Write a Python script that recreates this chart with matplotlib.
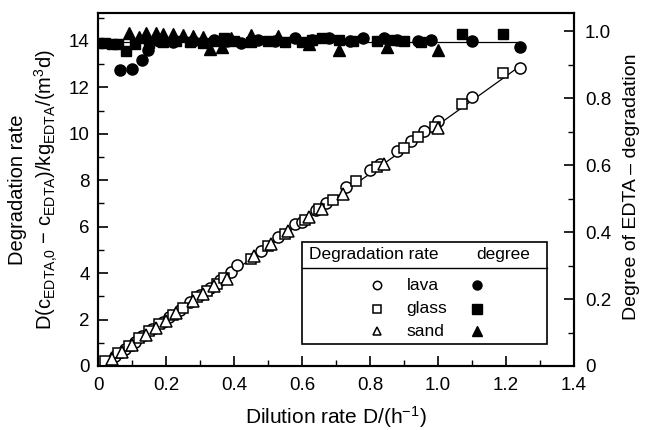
import matplotlib
matplotlib.use("Agg")
import matplotlib.pyplot as plt
from matplotlib.patches import Rectangle
from matplotlib.ticker import MultipleLocator, FuncFormatter

plt.rcParams["font.family"] = ["Liberation Sans", "DejaVu Sans"]
plt.rcParams["mathtext.fontset"] = "custom"
plt.rcParams["mathtext.rm"] = "Liberation Sans"
plt.rcParams["mathtext.it"] = "Liberation Sans:italic"
plt.rcParams["mathtext.bf"] = "Liberation Sans:bold"

# --- degradation rate (left axis) ---
lava_D = [0.05, 0.08, 0.11, 0.13, 0.16, 0.19, 0.21, 0.24, 0.27, 0.30, 0.33, 0.36, 0.39, 0.41,
          0.48, 0.53, 0.58, 0.60, 0.64, 0.67, 0.73, 0.80, 0.83, 0.88, 0.92, 0.96, 1.00, 1.10, 1.24]
lava_rate = [0.45, 0.75, 1.05, 1.3, 1.6, 1.9, 2.1, 2.4, 2.75, 3.05, 3.35, 3.7, 4.05, 4.35,
             4.95, 5.55, 6.1, 6.2, 6.7, 7.0, 7.7, 8.45, 8.7, 9.25, 9.7, 10.1, 10.55, 11.6, 12.85]
glass_D = [0.02, 0.06, 0.09, 0.12, 0.15, 0.18, 0.22, 0.25, 0.29, 0.32, 0.35, 0.37, 0.45,
           0.50, 0.55, 0.61, 0.65, 0.69, 0.76, 0.82, 0.90, 0.94, 0.99, 1.07, 1.19]
glass_rate = [0.2, 0.55, 0.85, 1.2, 1.5, 1.8, 2.2, 2.5, 2.95, 3.25, 3.55, 3.8, 4.6,
              5.15, 5.7, 6.3, 6.75, 7.15, 7.95, 8.55, 9.4, 9.85, 10.3, 11.3, 12.6]
sand_D = [0.04, 0.07, 0.10, 0.14, 0.17, 0.20, 0.23, 0.28, 0.31, 0.34, 0.38, 0.46, 0.51,
          0.56, 0.62, 0.66, 0.72, 0.84, 1.00]
sand_rate = [0.3, 0.6, 0.9, 1.35, 1.65, 1.95, 2.3, 2.8, 3.1, 3.45, 3.75, 4.75, 5.25,
             5.8, 6.4, 6.75, 7.4, 8.7, 10.25]
fit_D = [0.02, 1.24]
fit_rate = [0.1, 12.9]

# --- degree of degradation (right axis) ---
lava_degD = [0.065, 0.10, 0.13, 0.147, 0.18, 0.22, 0.28, 0.34, 0.38, 0.42, 0.47, 0.52,
             0.58, 0.63, 0.68, 0.74, 0.78, 0.84, 0.88, 0.94, 0.98, 1.10, 1.24]
lava_deg = [0.885, 0.888, 0.915, 0.943, 0.971, 0.967, 0.971, 0.974, 0.971, 0.964, 0.974, 0.971,
            0.978, 0.974, 0.978, 0.971, 0.978, 0.978, 0.974, 0.971, 0.974, 0.971, 0.953]
glass_degD = [0.0, 0.02, 0.04, 0.06, 0.083, 0.11, 0.15, 0.19, 0.23, 0.27, 0.31, 0.35, 0.37,
              0.40, 0.45, 0.50, 0.55, 0.60, 0.63, 0.66, 0.71, 0.75, 0.82, 0.86, 0.90, 0.95,
              1.07, 1.19]
glass_deg = [0.964, 0.964, 0.960, 0.960, 0.940, 0.960, 0.964, 0.967, 0.971, 0.967, 0.964, 0.971,
             0.978, 0.971, 0.967, 0.971, 0.967, 0.967, 0.974, 0.978, 0.974, 0.971, 0.971, 0.974,
             0.971, 0.967, 0.992, 0.992]
sand_degD = [0.09, 0.12, 0.14, 0.17, 0.19, 0.22, 0.25, 0.28, 0.31, 0.33, 0.365, 0.39, 0.45,
             0.53, 0.62, 0.71, 0.85, 1.00]
sand_deg = [0.995, 0.981, 0.995, 0.995, 0.992, 0.992, 0.988, 0.985, 0.981, 0.947, 0.953, 0.978,
            0.988, 0.985, 0.960, 0.943, 0.953, 0.943]
level_D = [0.0, 1.24]
level_deg = [0.967, 0.967]

W, H = 648, 430
fig = plt.figure(figsize=(W / 100, H / 100), dpi=100)
ax = fig.add_axes([98 / W, 1 - 366 / H, 476 / W, 353 / H])
ax2 = ax.twinx()

ms = 8
ax.plot(fit_D, fit_rate, color="black", lw=0.9, zorder=1)
ax.plot(lava_D, lava_rate, "o", mfc="white", mec="black", mew=1.1, ms=ms, zorder=3)
ax.plot(glass_D, glass_rate, "s", mfc="white", mec="black", mew=1.1, ms=ms - 0.8, zorder=3)
ax.plot(sand_D, sand_rate, "^", mfc="white", mec="black", mew=1.1, ms=ms, zorder=3)

ax2.plot(level_D, level_deg, color="black", lw=0.9)
ax2.plot(lava_degD, lava_deg, "o", color="black", ms=8)
ax2.plot(glass_degD, glass_deg, "s", color="black", ms=7)
ax2.plot(sand_degD, sand_deg, "^", color="black", ms=8)

ax.set_xlim(0, 1.4)
ax.set_ylim(0, 15.2)
ax2.set_ylim(0, 1.054)

ax.xaxis.set_major_locator(MultipleLocator(0.2))
ax.xaxis.set_minor_locator(MultipleLocator(0.1))
ax.yaxis.set_major_locator(MultipleLocator(2))
ax.yaxis.set_minor_locator(MultipleLocator(1))
ax2.yaxis.set_major_locator(MultipleLocator(0.2))
ax2.yaxis.set_minor_locator(MultipleLocator(0.1))
ax.xaxis.set_major_formatter(FuncFormatter(lambda v, p: "0" if abs(v) < 1e-9 else f"{v:.1f}"))
ax2.yaxis.set_major_formatter(FuncFormatter(lambda v, p: "0" if abs(v) < 1e-9 else f"{v:.1f}"))

for a in (ax, ax2):
    for s in a.spines.values():
        s.set_linewidth(1.5)
    a.tick_params(which="major", direction="in", length=7, width=1.2, labelsize=13.5)
    a.tick_params(which="minor", direction="in", length=4, width=1.0)
ax.tick_params(axis="x", pad=8)
ax.tick_params(axis="y", pad=6)
ax2.tick_params(axis="y", pad=8)
ax.tick_params(top=False, which="both")

fig.text(336 / W, 1 - 417 / H, r"Dilution rate D/(h$^{-1}$)", fontsize=15,
         ha="center", va="center")
fig.text(34 / W, 1 - 190 / H,
         "Degradation rate\n" +
         r"D(c$_{\rm EDTA{,}0}$ $-$ c$_{\rm EDTA}$)/kg$_{\rm EDTA}$/(m$^3$d)",
         fontsize=14.5, rotation=90, ha="center", va="center",
         multialignment="center", linespacing=1.3)
fig.text(632 / W, 1 - 187 / H, "Degree of EDTA \u2013 degradation", fontsize=14,
         rotation=90, ha="center", va="center")

# --- legend box drawn by hand ---
bx0, bx1, by0, by1, bdiv = 0.429, 0.943, 0.062, 0.351, 0.278
ax.add_patch(Rectangle((bx0, by0), bx1 - bx0, by1 - by0, transform=ax.transAxes,
                       fill=True, fc="white", ec="black", lw=1.2, zorder=5))
ax.plot([bx0, bx1], [bdiv, bdiv], transform=ax.transAxes, color="black", lw=1.0, zorder=6)
ax.text(0.443, (by1 + bdiv) / 2, "Degradation rate", transform=ax.transAxes,
        fontsize=12.5, va="center", ha="left", zorder=6)
ax.text(0.795, (by1 + bdiv) / 2, "degree", transform=ax.transAxes,
        fontsize=12.5, va="center", ha="left", zorder=6)
names = ["lava", "glass", "sand"]
marks = ["o", "s", "^"]
rows = [0.229, 0.162, 0.099]
for name, m, yy in zip(names, marks, rows):
    ax.plot([0.586], [yy], m, mfc="white", mec="black", mew=1.1, ms=6,
            transform=ax.transAxes, zorder=7, clip_on=False)
    ax.text(0.648, yy, name, transform=ax.transAxes, fontsize=12.5, va="center",
            ha="left", zorder=7)
    ax.plot([0.797], [yy], m, color="black", ms=6.5, transform=ax.transAxes,
            zorder=7, clip_on=False)

fig.savefig("out.png", dpi=100)
